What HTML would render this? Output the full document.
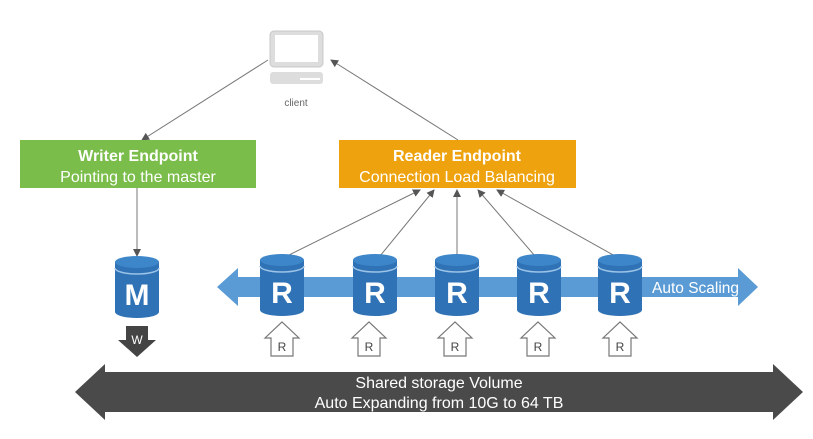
<!DOCTYPE html>
<html><head><style>body{margin:0;background:#fff}svg{display:block}text{font-family:"Liberation Sans",sans-serif}</style></head>
<body>
<svg width="813" height="439" viewBox="0 0 813 439" xmlns="http://www.w3.org/2000/svg">
<defs>
<marker id="ah" markerWidth="8" markerHeight="8" refX="7" refY="4" orient="auto"><path d="M0,0 L8,4 L0,8 z" fill="#555"/></marker>
<g id="cyl">
<rect x="-22" y="6" width="44" height="50" fill="#2f72b5"/>
<ellipse cx="0" cy="56" rx="22" ry="6" fill="#2f72b5"/>
<ellipse cx="0" cy="6" rx="22" ry="6" fill="#3d86c9"/>
<path d="M-22,12 A22,6 0 0 0 22,12" fill="none" stroke="#9cc3e8" stroke-width="1.5"/>
</g>
<g id="up">
<path d="M-11,16 L-11,34 L11,34 L11,16 L17,16 L0,0 L-17,16 z" fill="#fff" stroke="#777" stroke-width="1.2"/>
<text x="0" y="29" font-size="12" text-anchor="middle" fill="#444">R</text>
</g>
</defs>
<rect x="270" y="31" width="53" height="36" rx="4" fill="#ddd" stroke="#c8c8c8"/>
<rect x="275" y="35" width="43" height="27" fill="#fff"/>
<rect x="270" y="72" width="53" height="12" rx="3" fill="#ddd"/>
<rect x="300" y="78" width="20" height="2" fill="#fff"/>
<text x="296" y="106" font-size="10" text-anchor="middle" fill="#666">client</text>
<line x1="268" y1="60" x2="142" y2="140" stroke="#777" marker-end="url(#ah)"/>
<line x1="458" y1="140" x2="331" y2="60" stroke="#777" marker-end="url(#ah)"/>
<rect x="20" y="140" width="236" height="48" fill="#7bbd4a"/>
<text x="138" y="161" font-size="16" font-weight="bold" fill="#fff" text-anchor="middle">Writer Endpoint</text>
<text x="138" y="182" font-size="16" fill="#fff" text-anchor="middle">Pointing to the master</text>
<rect x="339" y="140" width="237" height="48" fill="#eea20e"/>
<text x="457" y="161" font-size="16" font-weight="bold" fill="#fff" text-anchor="middle">Reader Endpoint</text>
<text x="457" y="182" font-size="16" fill="#fff" text-anchor="middle">Connection Load Balancing</text>
<line x1="137" y1="188" x2="137" y2="256" stroke="#777" marker-end="url(#ah)"/>
<path d="M217,287 L238,268 L238,277 L738,277 L738,268 L758,287 L738,306 L738,297 L238,297 L238,306 z" fill="#5b9bd5"/>
<text x="652" y="293" font-size="15.5" fill="#fff">Auto Scaling</text>
<line x1="287" y1="256" x2="420" y2="190" stroke="#777" marker-end="url(#ah)"/>
<line x1="380" y1="256" x2="434" y2="190" stroke="#777" marker-end="url(#ah)"/>
<line x1="457" y1="256" x2="457" y2="190" stroke="#777" marker-end="url(#ah)"/>
<line x1="535" y1="256" x2="478" y2="190" stroke="#777" marker-end="url(#ah)"/>
<line x1="615" y1="256" x2="497" y2="190" stroke="#777" marker-end="url(#ah)"/>
<use href="#cyl" x="137" y="256"/>
<text x="137" y="305" font-size="30" font-weight="bold" fill="#fff" text-anchor="middle">M</text>
<use href="#cyl" x="282" y="254"/><text x="282" y="303" font-size="30" font-weight="bold" fill="#fff" text-anchor="middle">R</text>
<use href="#cyl" x="375" y="254"/><text x="375" y="303" font-size="30" font-weight="bold" fill="#fff" text-anchor="middle">R</text>
<use href="#cyl" x="457" y="254"/><text x="457" y="303" font-size="30" font-weight="bold" fill="#fff" text-anchor="middle">R</text>
<use href="#cyl" x="539" y="254"/><text x="539" y="303" font-size="30" font-weight="bold" fill="#fff" text-anchor="middle">R</text>
<use href="#cyl" x="620" y="254"/><text x="620" y="303" font-size="30" font-weight="bold" fill="#fff" text-anchor="middle">R</text>
<use href="#up" x="282" y="322"/><use href="#up" x="369" y="322"/><use href="#up" x="455" y="322"/><use href="#up" x="538" y="322"/><use href="#up" x="620" y="322"/>
<path d="M126,326 L148,326 L148,340 L156,340 L137,357 L118,340 L126,340 z" fill="#444"/>
<text x="137" y="344" font-size="12" fill="#fff" text-anchor="middle">W</text>
<path d="M75,392 L105,364 L105,372 L773,372 L773,364 L803,392 L773,420 L773,412 L105,412 L105,420 z" fill="#4a4a4a"/>
<text x="439" y="388" font-size="16" fill="#fff" text-anchor="middle">Shared storage Volume</text>
<text x="439" y="408" font-size="16" fill="#fff" text-anchor="middle">Auto Expanding from 10G to 64 TB</text>
</svg>
</body></html>
